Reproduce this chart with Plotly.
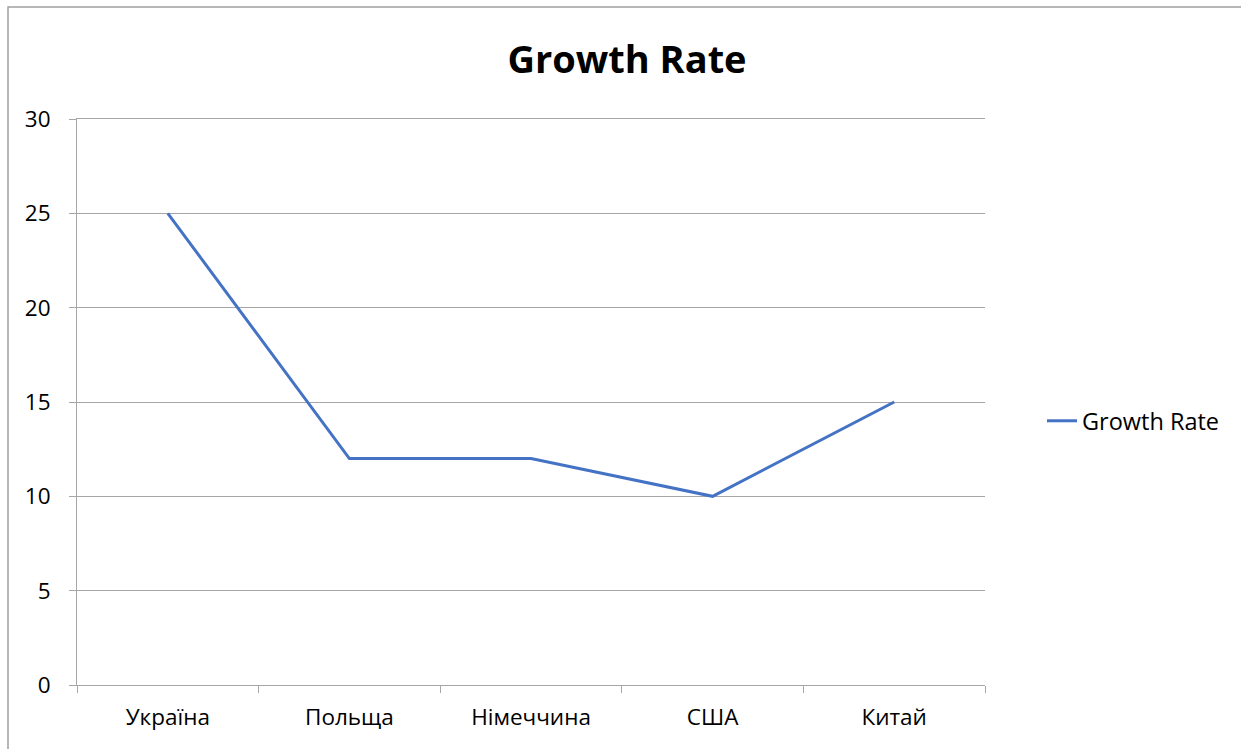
import plotly.graph_objects as go

categories = ["Україна", "Польща", "Німеччина", "США", "Китай"]
growth_rate = [25, 12, 12, 10, 15]
y_ticks = [0, 5, 10, 15, 20, 25, 30]

L, R, T, B = 77, 256, 119, 64
W, H = 1241, 749
pw, ph = W - L - R, H - T - B

fig = go.Figure()
fig.add_trace(go.Scatter(
    x=categories, y=growth_rate, mode="lines", name="Growth Rate",
    line=dict(color="#4472C4", width=3),
))

font = "'Open Sans', sans-serif"
fs = 22.5
fig.update_layout(
    width=W, height=H,
    margin=dict(l=L, r=R, t=T, b=B),
    paper_bgcolor="white", plot_bgcolor="white",
    title=dict(text="<b>Growth Rate</b>", x=627 / W, xanchor="center",
               y=1 - 60 / H, yanchor="middle",
               font=dict(family=font, size=38, color="black")),
    font=dict(family=font, size=fs, color="black"),
    showlegend=True,
    legend=dict(x=(1042 - L) / pw, xanchor="left", y=(685 - 421) / ph, yanchor="middle",
                font=dict(size=23.5), bgcolor="rgba(0,0,0,0)"),
    xaxis=dict(type="category", range=[-0.5, 4.5], tickson="boundaries",
               ticks="outside", ticklen=7, tickcolor="#a6a6a6",
               showline=True, linecolor="#a6a6a6", linewidth=1, mirror=True,
               showgrid=False, tickfont=dict(size=fs), ticklabelstandoff=12,
               fixedrange=True),
    yaxis=dict(range=[0, 30], tickvals=y_ticks, ticks="outside", ticklen=7,
               tickcolor="#a6a6a6", showline=True, linecolor="#a6a6a6",
               showgrid=True, gridcolor="#a6a6a6", gridwidth=1,
               zeroline=False, tickfont=dict(size=fs), ticklabelstandoff=14),
    shapes=[dict(type="rect", xref="paper", yref="paper",
                 x0=(8 - L) / pw, x1=(1300 - L) / pw,
                 y0=(685 - 800) / ph, y1=(685 - 7) / ph,
                 line=dict(color="#a0a0a0", width=1.5), fillcolor="rgba(0,0,0,0)",
                 layer="below")],
)

fig.write_html("out.html")
